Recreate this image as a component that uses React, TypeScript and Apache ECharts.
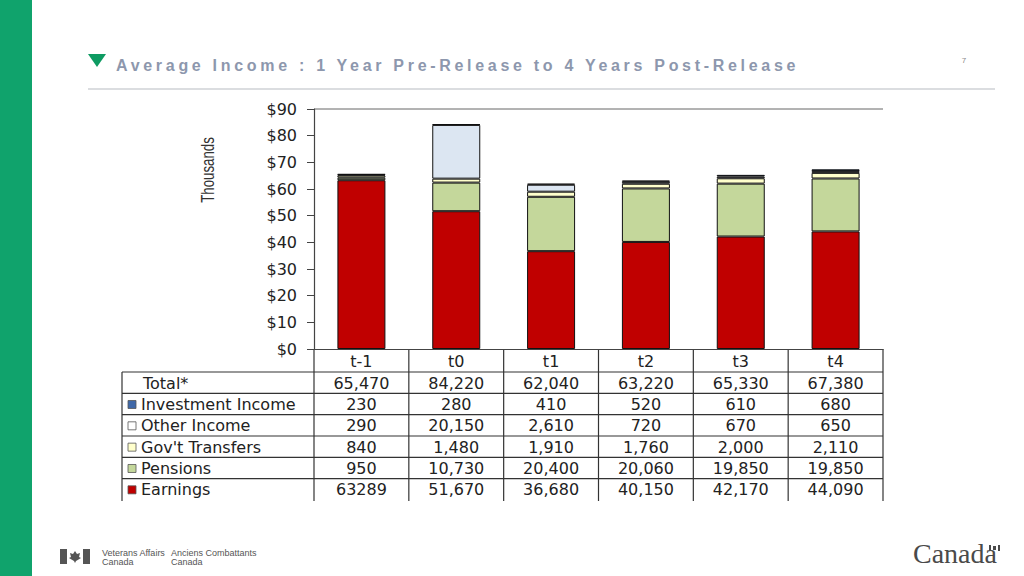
import React, { useEffect, useRef } from "react";
import * as echarts from "echarts";

const categories = ["t-1", "t0", "t1", "t2", "t3", "t4"];
const totals = [65470, 84220, 62040, 63220, 65330, 67380];
const investmentIncome = [230, 280, 410, 520, 610, 680];
const otherIncome = [290, 20150, 2610, 720, 670, 650];
const govTransfers = [840, 1480, 1910, 1760, 2000, 2110];
const pensions = [950, 10730, 20400, 20060, 19850, 19850];
const earnings = [63289, 51670, 36680, 40150, 42170, 44090];
const yTicks = [0, 10, 20, 30, 40, 50, 60, 70, 80, 90];
// cells printed without thousands separator in the source table: [rowIndex, colIndex]
const plainCells = [[5, 0]];

const TITLE = "Average Income : 1 Year Pre-Release to 4 Years Post-Release";

const COLORS = {
  earnings: "#c00000",
  pensions: "#c4d79b",
  gov: "#ffffcc",
  other: "#dce6f2",
  invest: "#3f68a8",
};

const FONT = "'DejaVu Sans', Arial, sans-serif";

export default function App() {
  const ref = useRef<HTMLDivElement>(null);

  useEffect(() => {
    if (!ref.current) return;
    const chart = echarts.init(ref.current, undefined, { renderer: "svg" });

    const gridLeft = 314;
    const gridRight = 883;
    const gridTop = 109;
    const gridBottom = 349;
    const colW = (gridRight - gridLeft) / categories.length;
    const tableTop = 372;
    const rowH = 21.33;
    const tableLeft = 122;

    const rows = [
      { label: "Total*", values: totals, color: null as string | null },
      { label: "Investment Income", values: investmentIncome, color: COLORS.invest },
      { label: "Other Income", values: otherIncome, color: "#ffffff" },
      { label: "Gov't Transfers", values: govTransfers, color: COLORS.gov },
      { label: "Pensions", values: pensions, color: COLORS.pensions },
      { label: "Earnings", values: earnings, color: COLORS.earnings },
    ];
    const tableBottom = tableTop + rowH * rows.length + 1;

    const fmt = (v: number, r: number, c: number) =>
      plainCells.some(([pr, pc]) => pr === r && pc === c)
        ? String(v)
        : v.toLocaleString("en-US");

    const graphics: any[] = [];
    graphics.push({
      type: "rect",
      shape: { x: 0, y: 0, width: 32, height: 576 },
      style: { fill: "#10a36c" },
    });
    graphics.push({
      type: "polygon",
      shape: { points: [[88, 54], [106, 54], [97, 67]] },
      style: { fill: "#0e9b62" },
    });
    graphics.push({
      type: "line",
      shape: { x1: 88, y1: 89, x2: 995, y2: 89 },
      style: { stroke: "#cfd2d6", lineWidth: 1.5 },
    });
    graphics.push({
      type: "text",
      x: 964,
      y: 60,
      style: { text: "7", fill: "#8a8a8a", font: "8px Arial", align: "center", verticalAlign: "middle" },
    });
    graphics.push({
      type: "line",
      shape: { x1: gridLeft, y1: gridTop, x2: gridRight, y2: gridTop },
      style: { stroke: "#666", lineWidth: 1 },
    });
    graphics.push({
      type: "text",
      x: 207,
      y: 170,
      rotation: Math.PI / 2,
      scaleX: 0.7,
      style: {
        text: "Thousands",
        fill: "#333",
        font: "19px 'Liberation Sans', Arial, sans-serif",
        align: "center",
        verticalAlign: "middle",
      },
    });

    for (let i = 0; i < rows.length; i++) {
      const y = tableTop + rowH * i;
      graphics.push({
        type: "line",
        shape: { x1: tableLeft, y1: y, x2: gridRight, y2: y },
        style: { stroke: "#333", lineWidth: 1.2 },
      });
    }
    graphics.push({
      type: "line",
      shape: { x1: tableLeft, y1: tableTop, x2: tableLeft, y2: tableBottom },
      style: { stroke: "#333", lineWidth: 1.2 },
    });
    for (let j = 0; j <= categories.length; j++) {
      const x = gridLeft + colW * j;
      graphics.push({
        type: "line",
        shape: { x1: x, y1: gridBottom, x2: x, y2: tableBottom },
        style: { stroke: "#333", lineWidth: 1.2 },
      });
    }
    rows.forEach((row, i) => {
      const cy = tableTop + rowH * (i + 0.5) + 0.5;
      if (row.color) {
        graphics.push({
          type: "rect",
          shape: { x: 128, y: cy - 4, width: 8, height: 8 },
          style: { fill: row.color, stroke: "#555", lineWidth: 0.8 },
        });
      }
      graphics.push({
        type: "text",
        x: row.color ? 141 : 143,
        y: cy,
        style: { text: row.label, fill: "#222", font: `16px ${FONT}`, verticalAlign: "middle" },
      });
      row.values.forEach((v, j) => {
        graphics.push({
          type: "text",
          x: gridLeft + colW * (j + 0.5),
          y: cy,
          style: {
            text: fmt(v, i, j),
            fill: "#222",
            font: `16px ${FONT}`,
            align: "center",
            verticalAlign: "middle",
          },
        });
      });
    });

    graphics.push({ type: "rect", shape: { x: 60, y: 549, width: 7, height: 15 }, style: { fill: "#555" } });
    graphics.push({ type: "rect", shape: { x: 83, y: 549, width: 7, height: 15 }, style: { fill: "#555" } });
    graphics.push({
      type: "polygon",
      shape: { points: [[75, 551], [77, 554], [80, 553], [79, 557], [81, 558], [76, 561], [75, 563], [74, 561], [69, 558], [71, 557], [70, 553], [73, 554]] },
      style: { fill: "#555" },
    });
    graphics.push({
      type: "text",
      x: 102,
      y: 548,
      style: { text: "Veterans Affairs\nCanada", fill: "#555", font: "9px Arial", lineHeight: 9 },
    });
    graphics.push({
      type: "text",
      x: 171,
      y: 548,
      style: { text: "Anciens Combattants\nCanada", fill: "#555", font: "9px Arial", lineHeight: 9 },
    });
    graphics.push({
      type: "text",
      x: 913,
      y: 567,
      style: {
        text: "Canada",
        fill: "#4a4a4a",
        font: "28px 'Liberation Serif', 'DejaVu Serif', serif",
        verticalAlign: "bottom",
      },
    });
    graphics.push({ type: "rect", shape: { x: 989, y: 545, width: 2, height: 6 }, style: { fill: "#4a4a4a" } });
    graphics.push({ type: "rect", shape: { x: 998, y: 545, width: 2, height: 6 }, style: { fill: "#4a4a4a" } });
    graphics.push({ type: "rect", shape: { x: 993, y: 546, width: 3, height: 4 }, style: { fill: "#4a4a4a" } });

    const k = (arr: number[]) => arr.map((v) => v / 1000);
    const bar = (name: string, data: number[], color: string) => ({
      name,
      type: "bar",
      stack: "income",
      barWidth: 48,
      data: k(data),
      itemStyle: { color, borderColor: "#111", borderWidth: 1 },
    });

    chart.setOption({
      animation: false,
      backgroundColor: "#ffffff",
      grid: {
        left: gridLeft,
        right: 1024 - gridRight,
        top: gridTop,
        bottom: 576 - gridBottom,
        containLabel: false,
      },
      xAxis: {
        type: "category",
        data: categories,
        axisLine: { show: true, lineStyle: { color: "#444", width: 1.2 } },
        axisTick: { show: false },
        axisLabel: { color: "#222", fontSize: 16, fontFamily: FONT, margin: 4, interval: 0 },
      },
      yAxis: {
        type: "value",
        min: yTicks[0],
        max: yTicks[yTicks.length - 1],
        interval: 10,
        axisLine: { show: true, lineStyle: { color: "#444", width: 1.2 } },
        axisTick: { show: true, length: 7, lineStyle: { color: "#444" } },
        splitLine: { show: false },
        axisLabel: {
          color: "#222",
          fontSize: 16,
          fontFamily: FONT,
          margin: 17,
          formatter: (v: number) => "$" + v,
        },
      },
      series: [
        bar("Earnings", earnings, COLORS.earnings),
        bar("Pensions", pensions, COLORS.pensions),
        bar("Gov't Transfers", govTransfers, COLORS.gov),
        bar("Other Income", otherIncome, COLORS.other),
        bar("Investment Income", investmentIncome, COLORS.invest),
      ],
      graphic: graphics,
    });

    return () => chart.dispose();
  }, []);

  return (
    <div style={{ position: "absolute", left: 0, top: 0, width: 1024, height: 576, background: "#fff" }}>
      <div ref={ref} style={{ position: "absolute", left: 0, top: 0, width: 1024, height: 576 }} />
      <div
        style={{
          position: "absolute",
          left: 116,
          top: 57,
          fontFamily: "'Liberation Sans', Arial, sans-serif",
          fontWeight: "bold",
          fontSize: 16,
          letterSpacing: "3.7px",
          color: "#8d97ad",
          whiteSpace: "nowrap",
          lineHeight: "18px",
        }}
      >
        {TITLE}
      </div>
    </div>
  );
}
